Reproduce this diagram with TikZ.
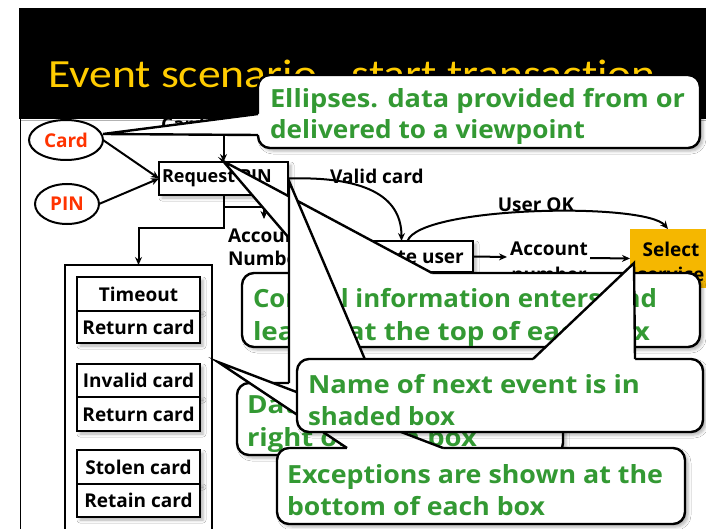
\documentclass[tikz,border=0pt]{standalone}
\usepackage{fontspec}
\setmainfont{Open Sans}
\newfontfamily\titlefont[Ligatures=NoCommon]{Carlito}
\usetikzlibrary{arrows.meta,shapes.geometric,shadows.blur}
\definecolor{ttlyel}{RGB}{255,204,0}
\definecolor{cgreen}{RGB}{51,153,51}
\definecolor{dred}{RGB}{255,51,0}
\definecolor{selor}{RGB}{245,183,0}
\newcommand{\cwline}[2]{\resizebox{#1}{\height}{#2}}
\begin{document}
\begin{tikzpicture}[x=1pt,y=-1pt,
  every node/.style={inner sep=0pt,outer sep=0pt},
  dfont/.style={font=\fontsize{19}{22}\selectfont\bfseries},
  cfont/.style={font=\fontsize{25}{30}\selectfont\bfseries,text=cgreen,anchor=base west},
  shd/.style={blur shadow={shadow xshift=3pt,shadow yshift=-3pt,shadow blur radius=3pt,shadow opacity=30}},
  dbox/.style={draw,line width=2pt,fill=white,shd,dfont},
  ell/.style={draw,ellipse,line width=2pt,fill=white,dfont,text=dred},
  conn/.style={line width=2pt,-{Stealth[length=8pt,width=7pt]}},
  cbox/.style={draw,line width=2.4pt,fill=white,rounded corners=12pt,shd},
  wedgeline/.style={line width=2.4pt},
]
\useasboundingbox (0,0) rectangle (706,529);
\clip (0,0) rectangle (706,529);
\fill[white] (0,0) rectangle (706,529);
% banner
\fill[black] (19,8) rectangle (706,119);
\draw[gray!60,line width=1pt] (20,120.5) -- (706,120.5);
\draw[black,line width=1pt] (20,119) -- (20,529);
\node[anchor=base west,font=\titlefont\fontsize{40}{48}\selectfont,text=ttlyel] (title) at (48,88) {\scalebox{1.14}[1]{Event scenario - start transaction}};

% ---------- diagram ----------
\node[ell,minimum width=74pt,minimum height=40pt] (card) at (66,140) {Card};
\node[ell,minimum width=64pt,minimum height=40pt] (pin) at (67,204) {PIN};
\node[dbox,minimum width=129pt,minimum height=33pt] (req) at (223.5,178.5) {};
\node[font=\fontsize{18}{22}\selectfont\bfseries,anchor=west] (reqtxt) at (162,178.5) {Request PIN};
\node[dfont] (cardlbl) at (183,124) {Card};
\coordinate (cardtop) at (223.5,122);
\draw[conn] (card.east) -- (req.west);
\draw[conn] (pin.east) -- (req.west);
\draw[conn] (cardtop) -- (req.north);

% exceptions
\node[draw,line width=2pt,minimum width=147pt,minimum height=285pt,anchor=north west] (exc) at (65,265) {};
\node[dbox,minimum width=123pt,minimum height=34pt,anchor=north west] (to) at (77,277) {Timeout};
\node[dbox,minimum width=123pt,minimum height=32pt,anchor=north west] (rc1) at (77,311) {Return card};
\node[dbox,minimum width=123pt,minimum height=33pt,anchor=north west] (ic) at (77,364) {Invalid card};
\node[dbox,minimum width=123pt,minimum height=34pt,anchor=north west] (rc2) at (77,397) {Return card};
\node[dbox,minimum width=123pt,minimum height=34pt,anchor=north west] (sc) at (77,450) {Stolen card};
\node[dbox,minimum width=123pt,minimum height=33pt,anchor=north west] (rt) at (77,484) {Retain card};
\draw[conn] (req.south) -- ++(0,33) -| (exc.north);

% account number (left)
\node[dfont,anchor=west] (acc1) at (228,236) {Account};
\node[dfont,anchor=west] (acc2) at (228,258) {Number};
\coordinate (accarr) at (264,219);
\draw[conn] ([yshift=-12pt]req.south) -| (accarr);

% validate user
\node[dbox,minimum width=143pt,minimum height=31pt] (val) at (401.5,256.5) {Validate user};
\node[dfont] (vclbl) at (377,176) {Valid card};
\draw[conn] (req.east) .. controls (372,176) and (401.5,200) .. (val.north);

% select service
\node[fill=selor,minimum width=82pt,minimum height=59pt,anchor=north west] (sel) at (630,229) {};
\node[font=\fontsize{19}{25}\selectfont\bfseries,align=center] (seltxt) at (671,261.5) {Select\\service};
\node[dfont] (uok) at (536,205) {User OK};
\draw[conn] ([xshift=6pt]val.north) .. controls (420,206) and (645,202) .. ([xshift=-3pt]sel.north);

% account number (right)
\node[dfont] (an1) at (549,249) {Account};
\node[dfont] (an2) at (549,274) {number};
\coordinate (anin) at (507,257);
\coordinate (anout) at (590,258);
\draw[conn] (val.east) -- (anin);
\draw[conn] (anout) -- (sel.west);

% ---------- callout C2 ----------
\node[cbox,minimum width=458pt,minimum height=74pt,anchor=north west] (c2) at (242,273) {};
\coordinate (c2tip) at (223,161);
\coordinate (c2a) at (319,273);
\coordinate (c2b) at (432,273);
\fill[white] (c2tip) -- (c2a) -- ([yshift=-4pt]c2a) -- ([yshift=-4pt]c2b) -- (c2b) -- cycle;
\draw[wedgeline] (c2a) -- (c2tip) -- (c2b);
\node[cfont] (c2l1) at (253,307) {\cwline{404pt}{Control information enters and}};
\node[cfont] (c2l2) at (253,340) {\cwline{397pt}{leaves at the top of each box}};

% ---------- callout C4 ----------
\node[cbox,minimum width=326pt,minimum height=72pt,anchor=north west] (c4) at (237,383) {};
\coordinate (c4tip) at (289,181);
\coordinate (c4a) at (289,383);
\coordinate (c4b) at (375,383);
\fill[white] (c4tip) -- (c4a) -- ([yshift=-4pt]c4a) -- ([yshift=-4pt]c4b) -- (c4b) -- cycle;
\draw[wedgeline] (c4a) -- (c4tip) -- (c4b);
\node[cfont] (c4l1) at (247,413) {\cwline{290pt}{Data leaves from the}};
\node[cfont] (c4l2) at (247,446) {\cwline{230pt}{right of each box}};

% ---------- callout C5 ----------
\node[cbox,minimum width=408pt,minimum height=76pt,anchor=north west] (c5) at (277,448) {};
\coordinate (c5tip) at (218,362);
\coordinate (c5a) at (347,448);
\coordinate (c5b) at (443,448);
\fill[white] (c5tip) -- (c5a) -- ([yshift=-4pt]c5a) -- ([yshift=-4pt]c5b) -- (c5b) -- cycle;
\draw[wedgeline] (c5a) -- (c5tip) -- (c5b);
\node[cfont] (c5l1) at (287,483) {\cwline{376pt}{Exceptions are shown at the}};
\node[cfont] (c5l2) at (287,515) {\cwline{258pt}{bottom of each box}};

% ---------- callout C3 ----------
\node[cbox,minimum width=406pt,minimum height=73pt,anchor=north west] (c3) at (297,359) {};
\coordinate (c3tip) at (634,263);
\coordinate (c3a) at (533,359);
\coordinate (c3b) at (635,359);
\fill[white] (c3tip) -- (c3a) -- ([yshift=-4pt]c3a) -- ([yshift=-4pt]c3b) -- (c3b) -- cycle;
\draw[wedgeline] (c3a) -- (c3tip) -- (c3b);
\node[cfont] (c3l1) at (308,393) {\cwline{332pt}{Name of next event is in}};
\node[cfont] (c3l2) at (308,425) {\cwline{147pt}{shaded box}};

% ---------- callout C1 ----------
\node[cbox,minimum width=442pt,minimum height=73pt,anchor=north west] (c1) at (258,75) {};
\coordinate (c1tip) at (103,134);
\coordinate (c1a) at (258,114);
\coordinate (c1b) at (258,135);
\fill[white] (c1tip) -- (c1a) -- ([xshift=4pt]c1a) -- ([xshift=4pt]c1b) -- (c1b) -- cycle;
\draw[wedgeline] (c1a) -- (c1tip) -- (c1b);
\node[cfont] (c1l1) at (270,108) {\cwline{415pt}{Ellipses. data provided from or}};
\node[cfont] (c1l2) at (270,139) {\cwline{315pt}{delivered to a viewpoint}};
\end{tikzpicture}
\end{document}
